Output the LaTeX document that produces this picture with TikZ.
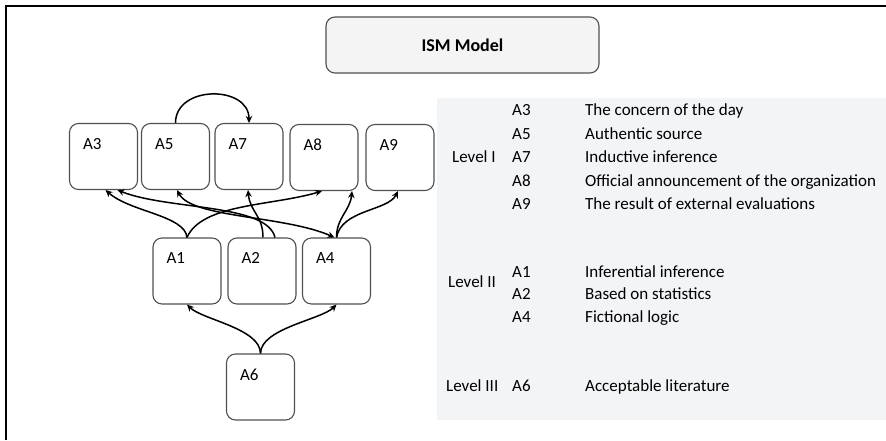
\documentclass[tikz,border=0pt]{standalone}
\usepackage{fontspec}
\setmainfont{Carlito}
\usetikzlibrary{arrows.meta}
\definecolor{panelgray}{RGB}{243,244,246}
\definecolor{titlegray}{RGB}{244,244,244}
\definecolor{boxline}{RGB}{80,80,80}

\begin{document}
\begin{tikzpicture}[x=1pt,y=1pt,>={Stealth[length=7pt,width=6.5pt]},
  every node/.style={font=\fontsize{17}{20}\selectfont},
  abox/.style={draw=boxline,line width=1.1pt,rounded corners=9pt,minimum width=68pt,minimum height=66pt,inner sep=0pt},
  boxlbl/.style={anchor=north west,inner sep=0pt,xshift=14pt,yshift=-15pt},
  rel/.style={->,line width=1.5pt},
  tab/.style={anchor=west,inner sep=0pt,text height=1.6ex,text depth=.45ex}]
\useasboundingbox (0,0) rectangle (886,440);
% frame and legend panel
\draw[line width=2.3pt] (6,0) -- (6,434) -- (886,434);
\fill[panelgray] (437,20) rectangle (886,342);
\node[draw=boxline,line width=1.1pt,fill=titlegray,rounded corners=9pt,minimum width=273pt,minimum height=56pt,font=\bfseries\fontsize{18}{21}\selectfont] (title) at (462.5,395) {ISM Model};
% level I
\node[abox,label={[boxlbl]north west:A3}] (a3) at (103.5,283.5) {};
\node[abox,label={[boxlbl]north west:A5}] (a5) at (175.5,283.5) {};
\node[abox,label={[boxlbl]north west:A7}] (a7) at (249,283.5) {};
\node[abox,label={[boxlbl]north west:A8}] (a8) at (324,282.5) {};
\node[abox,label={[boxlbl]north west:A9}] (a9) at (400,282.5) {};
% level II
\node[abox,label={[boxlbl]north west:A1}] (a1) at (187,169) {};
\node[abox,label={[boxlbl]north west:A2}] (a2) at (262,169) {};
\node[abox,label={[boxlbl]north west:A4}] (a4) at (336.5,169) {};
% level III
\node[abox,label={[boxlbl]north west:A6}] (a6) at (260.5,53) {};
% relations
\draw[rel] (a5.north) .. controls +(0,38) and +(0,38) .. (a7.north);
\draw[rel] (a6.north) .. controls +(0,25) and +(15,-15) .. (a1.south);
\draw[rel] (a6.north) .. controls +(0,25) and +(-15,-15) .. (a4.south);
\draw[rel] (a1.north) .. controls +(-2,22) and +(25,-22) .. ([xshift=2pt]a3.south);
\draw[rel] ([xshift=13pt]a2.north) .. controls +(-8,34) and +(50,-20) .. ([xshift=14pt]a3.south);
\draw[rel] ([xshift=1pt]a2.north) .. controls +(0,22) and +(2,-22) .. ([xshift=-1pt]a7.south);
\draw[rel] (a1.north) .. controls +(15,34) and +(-50,-15) .. ([xshift=-2pt]a8.south);
\draw[rel,<->] ([xshift=1.5pt]a5.south) .. controls +(15,-28) and +(-50,22) .. ([xshift=-2pt]a4.north);
\draw[rel] (a4.north) .. controls +(0,20) and +(-2,-20) .. ([xshift=28pt]a8.south);
\draw[rel] (a4.north) .. controls +(5,28) and +(-10,-20) .. ([xshift=-2pt]a9.south);
% legend
\node[tab] (lvl1) at (452,280) {Level I};
\node[tab] (c3) at (512,327) {A3};
\node[tab] (t3) at (585,327) {The concern of the day};
\node[tab] (c5) at (512,303.5) {A5};
\node[tab] (t5) at (585,303.5) {Authentic source};
\node[tab] (c7) at (512,280) {A7};
\node[tab] (t7) at (585,280) {Inductive inference};
\node[tab] (c8) at (512,256.5) {A8};
\node[tab] (t8) at (585,256.5) {Official announcement of the organization};
\node[tab] (c9) at (512,233) {A9};
\node[tab] (t9) at (585,233) {The result of external evaluations};
\node[tab] (lvl2) at (448,155) {Level II};
\node[tab] (c1) at (512,165) {A1};
\node[tab] (t1) at (585,165) {Inferential inference};
\node[tab] (c2) at (512,143) {A2};
\node[tab] (t2) at (585,143) {Based on statistics};
\node[tab] (c4) at (512,120) {A4};
\node[tab] (t4) at (585,120) {Fictional logic};
\node[tab] (lvl3) at (446,51) {Level III};
\node[tab] (c6) at (512,51) {A6};
\node[tab] (t6) at (585,51) {Acceptable literature};
\end{tikzpicture}
\end{document}
